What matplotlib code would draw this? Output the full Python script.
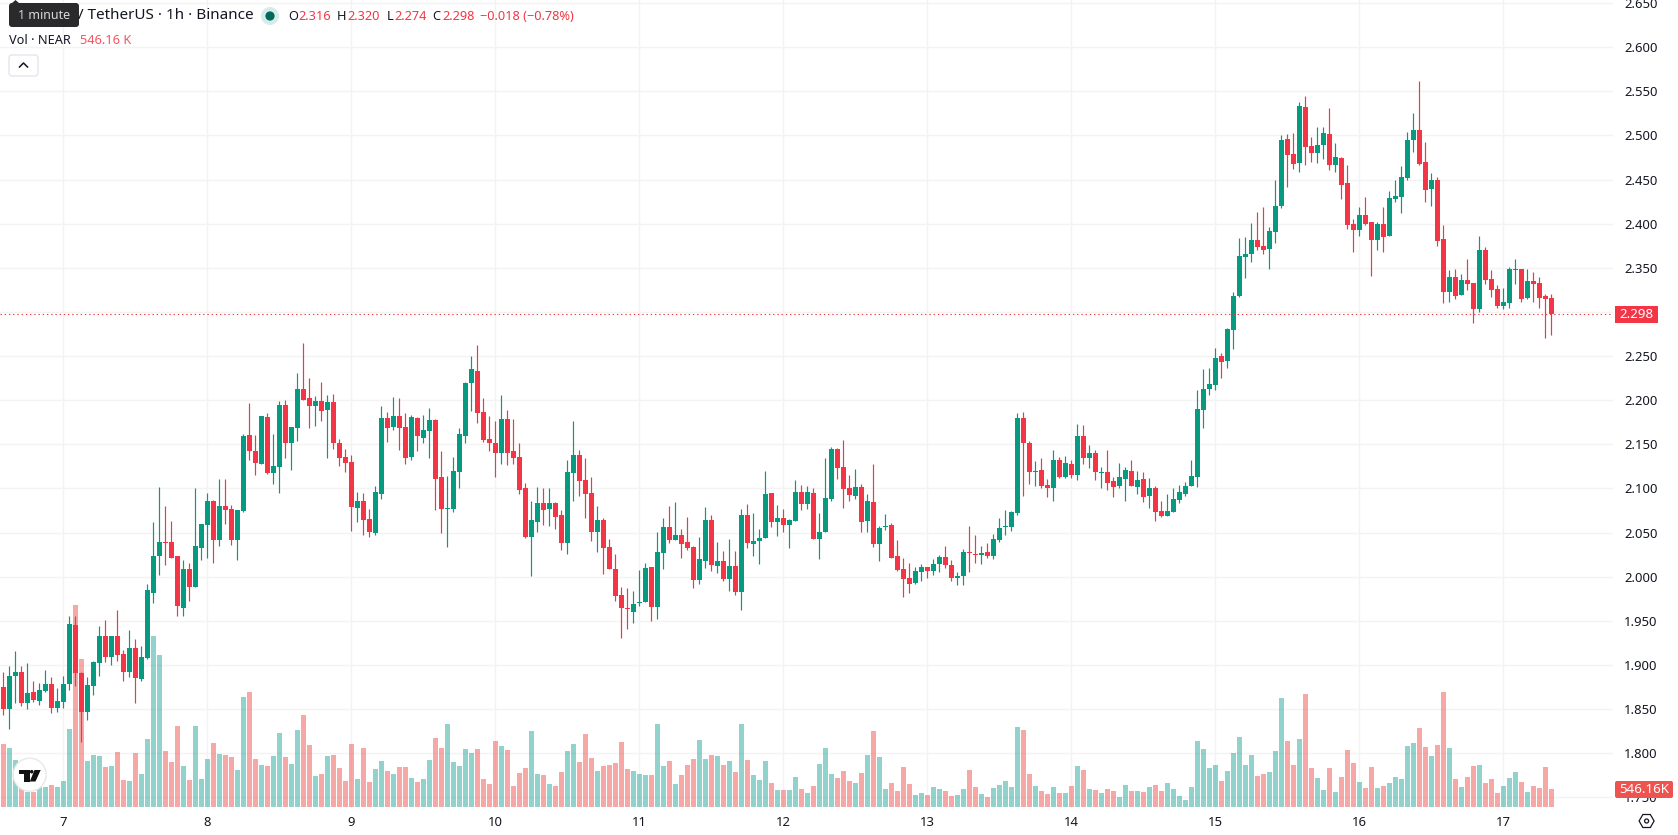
import matplotlib
matplotlib.use("Agg")
import matplotlib.pyplot as plt
import numpy as np
from matplotlib.patches import Circle, FancyBboxPatch, Polygon, Rectangle, RegularPolygon

plt.rcParams['font.family'] = ['Noto Sans', 'DejaVu Sans']

# NEAR/USDT hourly candles, one row per ten bars
opens = [
    1.875,1.850,1.887,1.892,1.857,1.869,1.859,1.871,1.878,1.851,
    1.858,1.878,1.945,1.891,1.847,1.876,1.902,1.933,1.909,1.933,
    1.912,1.892,1.919,1.884,1.908,1.982,2.024,2.039,2.039,2.023,
    1.965,2.009,1.988,2.032,2.059,2.086,2.042,2.080,2.077,2.042,
    2.074,2.161,2.143,2.128,2.181,2.118,2.124,2.195,2.151,2.169,
    2.213,2.203,2.194,2.199,2.189,2.198,2.152,2.136,2.130,2.078,
    2.086,2.065,2.050,2.094,2.180,2.170,2.182,2.170,2.136,2.180,
    2.157,2.165,2.178,2.113,2.077,2.077,2.119,2.160,2.219,2.233,
    2.187,2.156,2.152,2.140,2.179,2.143,2.136,2.100,2.045,2.062,
    2.084,2.077,2.083,2.070,2.038,2.118,2.138,2.110,2.095,2.051,
    2.064,2.034,2.009,1.979,1.964,1.960,1.970,1.971,2.011,1.966,
    2.027,2.056,2.042,2.047,2.039,2.034,1.996,2.018,2.064,2.012,
    2.018,1.997,2.012,1.983,2.070,2.037,2.040,2.044,2.095,2.062,
    2.067,2.059,2.063,2.096,2.082,2.095,2.043,2.051,2.088,2.145,
    2.124,2.100,2.091,2.102,2.063,2.085,2.037,2.056,2.059,2.023,
    2.009,1.998,1.993,2.005,2.011,2.006,2.014,2.022,2.013,1.998,
    2.001,2.028,2.026,2.025,2.028,2.024,2.042,2.056,2.056,2.072,
    2.180,2.151,2.119,2.121,2.104,2.100,2.132,2.113,2.128,2.115,
    2.159,2.134,2.140,2.118,2.119,2.109,2.103,2.111,2.120,2.102,
    2.111,2.092,2.101,2.075,2.069,2.073,2.087,2.094,2.103,2.113,
    2.189,2.213,2.217,2.250,2.244,2.279,2.318,2.362,2.366,2.381,
    2.375,2.371,2.391,2.420,2.496,2.479,2.469,2.532,2.488,2.480,
    2.489,2.502,2.467,2.474,2.446,2.400,2.393,2.410,2.402,2.381,
    2.400,2.386,2.428,2.430,2.452,2.495,2.506,2.470,2.439,2.450,
    2.383,2.323,2.340,2.319,2.336,2.333,2.303,2.370,2.337,2.326,
    2.307,2.310,2.347,2.349,2.316,2.335,2.333,2.318,2.316,
]
highs = [
    1.892,1.899,1.916,1.899,1.902,1.882,1.880,1.894,1.886,1.874,
    1.887,1.955,1.955,1.892,1.886,1.905,1.944,1.951,1.933,1.962,
    1.917,1.940,1.929,1.921,1.992,2.062,2.102,2.080,2.063,2.023,
    2.019,2.015,2.100,2.060,2.095,2.087,2.111,2.111,2.081,2.076,
    2.162,2.197,2.161,2.182,2.186,2.162,2.199,2.200,2.170,2.231,
    2.265,2.225,2.205,2.221,2.206,2.207,2.156,2.145,2.138,2.096,
    2.095,2.077,2.103,2.193,2.187,2.204,2.202,2.185,2.183,2.181,
    2.183,2.191,2.179,2.142,2.114,2.136,2.169,2.221,2.250,2.262,
    2.202,2.182,2.177,2.206,2.189,2.179,2.152,2.106,2.086,2.102,
    2.101,2.100,2.085,2.076,2.132,2.176,2.144,2.134,2.113,2.080,
    2.066,2.043,2.026,1.988,1.987,1.984,2.008,2.015,2.011,2.051,
    2.067,2.080,2.085,2.054,2.068,2.035,2.045,2.079,2.070,2.039,
    2.029,2.043,2.029,2.077,2.082,2.072,2.054,2.120,2.095,2.081,
    2.077,2.065,2.110,2.104,2.103,2.101,2.072,2.135,2.147,2.146,
    2.155,2.115,2.122,2.105,2.094,2.128,2.057,2.071,2.061,2.042,
    2.021,2.015,2.011,2.014,2.011,2.020,2.025,2.035,2.019,2.005,
    2.031,2.057,2.047,2.035,2.038,2.048,2.066,2.076,2.075,2.185,
    2.187,2.154,2.131,2.135,2.111,2.144,2.136,2.137,2.132,2.173,
    2.172,2.149,2.144,2.124,2.144,2.113,2.129,2.124,2.132,2.120,
    2.119,2.112,2.103,2.086,2.094,2.101,2.104,2.107,2.132,2.212,
    2.235,2.237,2.259,2.254,2.282,2.323,2.384,2.385,2.401,2.413,
    2.419,2.396,2.450,2.501,2.502,2.503,2.538,2.545,2.498,2.510,
    2.510,2.531,2.491,2.476,2.467,2.405,2.419,2.430,2.402,2.402,
    2.419,2.437,2.450,2.465,2.504,2.525,2.562,2.493,2.457,2.453,
    2.398,2.347,2.349,2.343,2.360,2.333,2.386,2.374,2.347,2.330,
    2.327,2.351,2.360,2.349,2.349,2.345,2.340,2.320,2.320,
]
lows = [
    1.843,1.827,1.857,1.853,1.850,1.858,1.855,1.869,1.846,1.847,
    1.851,1.872,1.876,1.813,1.838,1.866,1.887,1.903,1.900,1.905,
    1.882,1.886,1.857,1.882,1.907,1.970,2.002,2.013,2.021,1.955,
    1.956,1.972,1.988,2.019,2.021,2.015,2.035,2.060,2.036,2.019,
    2.073,2.132,2.115,2.128,2.116,2.105,2.095,2.135,2.121,2.154,
    2.200,2.169,2.171,2.176,2.135,2.145,2.125,2.119,2.052,2.062,
    2.047,2.045,2.047,2.088,2.153,2.166,2.144,2.128,2.132,2.143,
    2.152,2.135,2.076,2.049,2.034,2.073,2.100,2.152,2.188,2.174,
    2.153,2.143,2.113,2.128,2.127,2.128,2.094,2.044,2.001,2.051,
    2.059,2.058,2.054,2.030,2.026,2.086,2.092,2.066,2.041,2.028,
    2.003,2.009,1.973,1.931,1.941,1.948,1.967,1.971,1.950,1.952,
    2.009,2.038,2.042,2.021,2.030,1.987,1.992,2.010,2.006,2.004,
    1.995,1.984,1.979,1.962,2.032,2.023,2.014,2.044,2.056,2.046,
    2.051,2.032,2.063,2.076,2.077,2.043,2.020,2.051,2.086,2.111,
    2.078,2.086,2.088,2.051,2.051,2.034,2.018,2.053,2.021,2.006,
    1.977,1.981,1.992,1.995,1.998,2.002,2.005,2.010,1.995,1.991,
    1.991,2.005,2.015,2.014,2.021,2.020,2.039,2.047,2.052,2.070,
    2.092,2.105,2.103,2.101,2.090,2.086,2.112,2.112,2.112,2.110,
    2.128,2.123,2.110,2.101,2.098,2.090,2.101,2.086,2.103,2.094,
    2.085,2.078,2.063,2.068,2.069,2.073,2.084,2.092,2.103,2.102,
    2.169,2.206,2.211,2.225,2.236,2.258,2.317,2.338,2.357,2.370,
    2.366,2.349,2.378,2.418,2.442,2.462,2.459,2.467,2.470,2.469,
    2.473,2.461,2.459,2.428,2.394,2.368,2.386,2.398,2.341,2.370,
    2.368,2.386,2.425,2.412,2.450,2.481,2.467,2.425,2.420,2.375,
    2.310,2.311,2.315,2.319,2.325,2.288,2.300,2.332,2.317,2.305,
    2.303,2.305,2.332,2.311,2.315,2.311,2.305,2.271,2.274,
]
closes = [
    1.850,1.887,1.892,1.857,1.868,1.860,1.872,1.878,1.851,1.859,
    1.878,1.946,1.891,1.847,1.877,1.903,1.933,1.909,1.933,1.911,
    1.892,1.919,1.885,1.909,1.985,2.024,2.039,2.038,2.021,1.967,
    2.009,1.988,2.035,2.060,2.086,2.042,2.080,2.076,2.042,2.076,
    2.160,2.143,2.129,2.182,2.118,2.126,2.195,2.152,2.170,2.213,
    2.200,2.193,2.199,2.188,2.198,2.151,2.134,2.129,2.079,2.086,
    2.064,2.051,2.096,2.180,2.169,2.182,2.169,2.135,2.181,2.159,
    2.166,2.178,2.111,2.077,2.078,2.120,2.162,2.219,2.235,2.186,
    2.155,2.152,2.140,2.179,2.140,2.134,2.098,2.045,2.064,2.083,
    2.076,2.083,2.068,2.038,2.119,2.138,2.109,2.094,2.051,2.064,
    2.032,2.009,1.978,1.964,1.963,1.969,1.971,2.010,1.966,2.028,
    2.056,2.042,2.047,2.037,2.033,1.996,2.020,2.064,2.013,2.018,
    1.997,2.012,1.983,2.070,2.038,2.040,2.044,2.094,2.062,2.067,
    2.059,2.064,2.096,2.082,2.096,2.043,2.051,2.089,2.145,2.123,
    2.099,2.093,2.102,2.062,2.086,2.037,2.055,2.057,2.021,2.008,
    1.997,1.992,2.006,2.011,2.006,2.014,2.022,2.013,1.998,2.001,
    2.028,2.027,2.025,2.027,2.024,2.043,2.055,2.058,2.073,2.180,
    2.151,2.119,2.120,2.103,2.101,2.132,2.113,2.129,2.115,2.160,
    2.135,2.140,2.119,2.119,2.106,2.102,2.113,2.121,2.103,2.110,
    2.090,2.101,2.073,2.069,2.075,2.088,2.096,2.103,2.114,2.190,
    2.213,2.218,2.248,2.243,2.281,2.318,2.363,2.366,2.381,2.374,
    2.370,2.392,2.420,2.495,2.478,2.468,2.533,2.487,2.480,2.489,
    2.503,2.467,2.476,2.444,2.398,2.393,2.410,2.400,2.381,2.400,
    2.385,2.429,2.431,2.453,2.495,2.506,2.468,2.438,2.450,2.380,
    2.323,2.340,2.318,2.336,2.332,2.303,2.370,2.336,2.325,2.307,
    2.311,2.349,2.349,2.315,2.335,2.332,2.316,2.315,2.298,
]
# volume in thousands of NEAR
volumes = [
    1890,1770,1410,560,460,460,600,600,660,600,
    780,2340,6060,4440,1380,1560,1530,1200,1230,1650,
    810,780,1620,990,2040,5130,4560,1680,1350,2430,
    1230,810,2430,840,1440,1920,1590,1560,1500,1110,
    3300,3450,1440,1260,1230,1530,2220,1500,1290,2310,
    2760,1860,930,990,1530,1560,1170,780,1890,840,
    1770,750,1140,1380,1080,990,1200,1200,870,750,
    840,1410,2070,1770,2490,1350,1230,1740,1620,1740,
    840,690,1980,1830,1710,630,1020,1170,2280,990,
    960,690,630,1050,1680,1890,1350,2190,1470,1080,
    1230,1260,1320,1950,1140,1080,990,960,960,2490,
    1230,1380,690,960,1260,1440,2010,1440,1560,1530,
    1260,1380,1050,2490,1410,960,810,1380,720,510,
    510,510,900,540,420,630,1290,1770,990,870,
    1080,780,720,1020,1560,2280,1500,540,720,480,
    1200,690,360,420,360,600,540,480,330,360,
    540,1110,600,390,300,570,660,780,600,2400,
    2310,990,630,480,390,600,420,420,630,1230,
    1110,540,510,420,540,480,300,660,480,480,
    450,600,660,480,720,540,330,210,600,1980,
    1740,1170,1260,780,1080,1620,2100,1260,1560,930,
    990,1050,1680,3270,1980,1260,2040,3390,1170,870,
    510,1170,450,900,1710,1320,750,570,1200,570,
    630,720,900,840,1830,1920,2370,1800,1530,1860,
    3450,1770,840,600,900,1230,1260,720,840,420,
    630,870,1050,750,450,630,570,1200,546.16,
]
first_bar = -10
day_bars = [0, 24, 48, 72, 96, 120, 144, 168, 192, 216, 240]
day_labels = ['7', '8', '9', '10', '11', '12', '13', '14', '15', '16', '17']
bold_days = ['8', '15']
price_ticks = [1.75, 1.80, 1.85, 1.90, 1.95, 2.00, 2.05, 2.10, 2.15, 2.20, 2.25,
               2.30, 2.35, 2.40, 2.45, 2.50, 2.55, 2.60, 2.65]

UP = '#089981'
DOWN = '#F23645'
VOL_UP = '#26a69a'
VOL_DOWN = '#ef5350'
TEXT = '#131722'
GRID = '#f3f3f4'

W, H = 1678, 835
fig = plt.figure(figsize=(W / 100, H / 100), dpi=100, facecolor='white')
rect = [0, (H - 808) / H, 1613 / W, 808 / H]

x = np.arange(len(opens)) + first_bar
o, c = np.array(opens), np.array(closes)
up = c >= o
xlim = (-10.55, 258.28)
ylim = (1.7379, 2.6535)

# grid and axis labels sit on the bottom layer; the 2.300 label is covered by the last-price tag
ax = fig.add_axes(rect)
ax.set_xlim(xlim)
ax.set_ylim(ylim)
for s in ax.spines.values():
    s.set_visible(False)
ax.set_yticks(price_ticks, ['' if p == 2.30 else f'{p:.3f}' for p in price_ticks])
ax.yaxis.tick_right()
ax.set_xticks(day_bars, day_labels)
ax.tick_params(length=0, labelcolor=TEXT, labelsize=9.4)
ax.tick_params(axis='y', pad=8)
ax.tick_params(axis='x', pad=6)
for lab in ax.get_xticklabels():
    if lab.get_text() in bold_days:
        lab.set_fontweight('bold')
ax.grid(True, color=GRID, lw=1.0)
ax.set_axisbelow(True)
ax.set_zorder(1)

# volume pane, 30k per pixel above a baseline at y=807
ax_vol = fig.add_axes(rect, zorder=2)
ax_vol.set_xlim(xlim)
ax_vol.set_ylim(-30, 24210)
ax_vol.axis('off')
ax_vol.bar(x, volumes, width=0.8, color=[VOL_UP if u else VOL_DOWN for u in up], alpha=0.5, lw=0)

# candles
ax_c = fig.add_axes(rect, zorder=3)
ax_c.set_xlim(xlim)
ax_c.set_ylim(ylim)
ax_c.axis('off')
colors = [UP if u else DOWN for u in up]
ax_c.vlines(x, lows, highs, colors=colors, lw=0.85)
body = np.maximum(np.abs(c - o), 0.0012)
ax_c.bar(x, body, bottom=np.minimum(o, c), width=0.84, color=colors, lw=0)
ax_c.axhline(closes[-1], color=DOWN, lw=0.8, ls=(0, (1.2, 2.6)), xmin=0, xmax=1)

# header, price tags and icons are placed in pixel coordinates
ov = fig.add_axes([0, 0, 1, 1], zorder=4)
ov.set_xlim(0, W)
ov.set_ylim(H, 0)
ov.axis('off')

ov.text(78, 15.5, '/ TetherUS · 1h · Binance', fontsize=11, color=TEXT, va='center')
ov.add_patch(Circle((270, 16), 9, color='#d6ecea', lw=0))
ov.add_patch(Circle((270, 16), 4.6, color='#00695c', lw=0))

ov.add_patch(FancyBboxPatch((11, 5), 66, 20, boxstyle='round,pad=2,rounding_size=3',
                            fc='#2a2a2c', ec='none'))
ov.add_patch(Polygon([(11, 4), (15.5, 0), (20, 4)], fc='#2a2a2c', ec='none'))
ov.text(44, 15.5, '1 minute', fontsize=9, color='#d8d8d8', ha='center', va='center')

for px, s, col in [(288, 'O', TEXT), (298.5, '2.316', DOWN), (337, 'H', TEXT), (347, '2.320', DOWN),
                   (386.5, 'L', TEXT), (394, '2.274', DOWN), (432.5, 'C', TEXT), (442, '2.298', DOWN),
                   (480, '−0.018 (−0.78%)', DOWN)]:
    ov.text(px, 16, s, fontsize=9.2, color=col, va='center')
ov.text(9, 40.5, 'Vol · NEAR', fontsize=9.2, color=TEXT, va='center')
ov.text(80, 40.5, '546.16 K', fontsize=9.2, color='#f7525f', va='center')

ov.add_patch(FancyBboxPatch((11, 57), 25, 17, boxstyle='round,pad=2,rounding_size=3',
                            fc='white', ec='#e0e3eb', lw=0.9))
ov.plot([19.5, 23.5, 27.5], [67, 63, 67], color=TEXT, lw=1.1)

ov.add_patch(Rectangle((1615, 306), 43, 17, fc=DOWN, ec='none'))
ov.text(1636.5, 314.7, '2.298', fontsize=9.6, color='white', ha='center', va='center')
ov.add_patch(FancyBboxPatch((1616, 782), 56, 15, boxstyle='round,pad=1,rounding_size=2',
                            fc='#ef5350', ec='none'))
ov.text(1644, 789.7, '546.16K', fontsize=9.6, color='white', ha='center', va='center')

# TradingView badge
ov.add_patch(Circle((29.7, 774.7), 16.5, fc='white', ec='#e8e8e8', lw=1))
ov.add_patch(Polygon([(19, 770), (29.5, 770), (29.5, 781.5), (23.5, 781.5), (23.5, 773.5), (19, 773.5)],
                     fc='#111111', ec='none'))
ov.add_patch(Circle((31.7, 771.7), 1.8, fc='#111111', ec='none'))
ov.add_patch(Polygon([(34.5, 770), (40.7, 770), (35.5, 781.5), (29.8, 781.5)], fc='#111111', ec='none'))

# settings glyph next to the time axis
ov.add_patch(RegularPolygon((1646.6, 821), 6, radius=7.5, orientation=np.pi / 6, fc='white',
                            ec=TEXT, lw=0.9))
ov.add_patch(Circle((1646.6, 821), 2, fc='white', ec=TEXT, lw=0.9))

fig.savefig('out.png', dpi=100)
